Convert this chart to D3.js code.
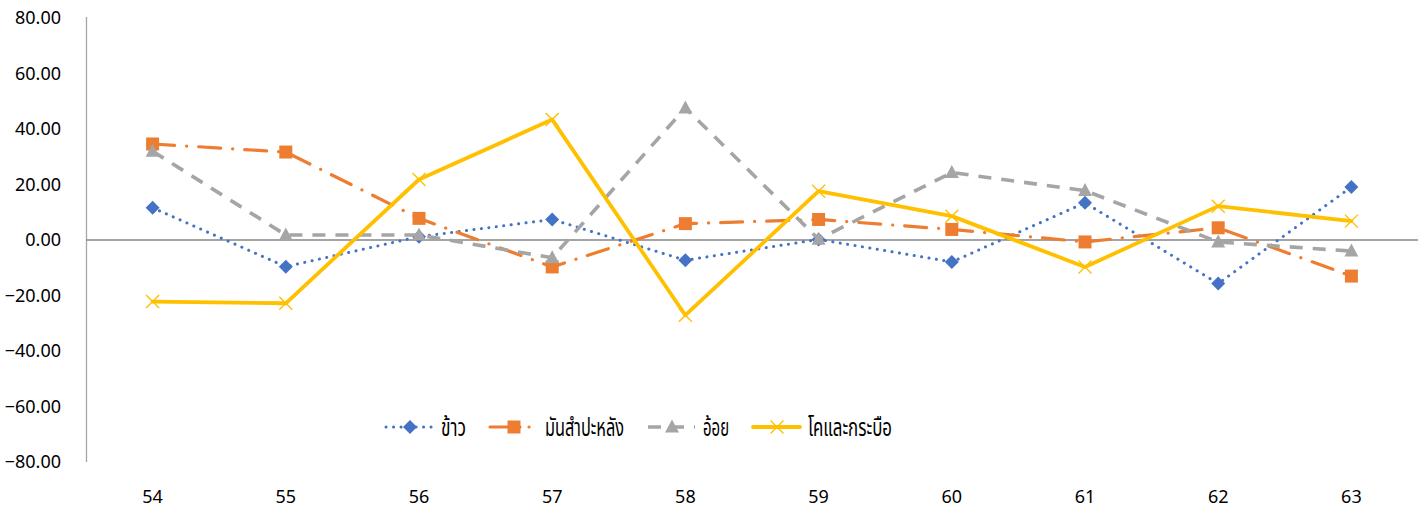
<!DOCTYPE html>
<html>
<head>
<meta charset="utf-8">
<script src="https://cdn.jsdelivr.net/npm/d3@7"></script>
<style>
  body { margin: 0; background: #fff; }
  text { font-family: "Noto Sans", "DejaVu Sans", sans-serif; fill: #000; }
  .legend-text { font-family: "Noto Sans Thai", "Noto Sans", "DejaVu Sans", sans-serif; }
</style>
</head>
<body>
<div id="container"></div>
<script>
// ### DATA ###
const years = [ '54', '55', '56', '57', '58', '59', '60', '61', '62', '63' ];
const yTicks = [ 80, 60, 40, 20, 0, -20, -40, -60, -80 ];

const seriesNames = [ 'ข้าว', 'มันสำปะหลัง', 'อ้อย', 'โคและกระบือ' ];
const rice = [ 11.6, -9.6, 1.2, 7.4, -7.3, 0.2, -7.9, 13.4, -15.7, 19.1 ];
const cassava = [ 34.6, 31.7, 7.8, -9.7, 5.9, 7.4, 3.8, -0.7, 4.4, -13.0 ];
const sugarcane = [ 32.0, 1.8, 1.8, -6.4, 47.6, 0.3, 24.3, 17.8, -0.7, -4.0 ];
const cattle = [ -22.2, -22.8, 21.8, 43.4, -27.1, 17.6, 8.6, -9.7, 12.2, 6.8 ];

const W = 1418, H = 508;

//_____ SERIES STYLES _____
const styles = [
  { values: rice, color: '#4472C4', width: 3, dash: '0.1 7.4', cap: 'round', marker: 'diamond' },
  { values: cassava, color: '#ED7D31', width: 3.2, dash: '22 12 0.1 12', cap: 'round', marker: 'square' },
  { values: sugarcane, color: '#A5A5A5', width: 3.6, dash: '13 10', cap: 'butt', marker: 'triangle' },
  { values: cattle, color: '#FFC000', width: 3.8, dash: null, cap: 'round', marker: 'x' }
];
//--- legend label widths (the original font is a narrow Thai face)
const legendTextWidths = [ 25, 79, 26, 84 ];

const svg = d3.select( '#container' ).append( 'svg' )
  .attr( 'width', W ).attr( 'height', H );

//_____ SCALES _____
const xScale = d3.scaleBand().domain( years ).range( [ 86, 1418 ] ).padding( 0 );
const xc = d => xScale( d ) + xScale.bandwidth() / 2;
const yScale = d3.scaleLinear().domain( [ -80, 80 ] ).range( [ 462, 18 ] );

//_____ AXES _____
const yAxis = d3.axisLeft( yScale ).tickValues( yTicks ).tickSize( 0 ).tickPadding( 25 )
  .tickFormat( d3.format( '.2f' ) );
const gy = svg.append( 'g' ).attr( 'transform', 'translate(86,0)' ).call( yAxis );
gy.select( '.domain' ).remove();
gy.selectAll( 'text' ).style( 'font-size', '18px' );

svg.append( 'line' )
  .attr( 'x1', 86.5 ).attr( 'x2', 86.5 )
  .attr( 'y1', yScale( 80 ) - 1 ).attr( 'y2', yScale( -80 ) )
  .attr( 'stroke', '#A6A6A6' ).attr( 'stroke-width', 1.3 );

svg.append( 'line' )
  .attr( 'x1', 86 ).attr( 'x2', 1418 )
  .attr( 'y1', yScale( 0 ) ).attr( 'y2', yScale( 0 ) )
  .attr( 'stroke', '#868686' ).attr( 'stroke-width', 1.3 );

const xAxis = d3.axisBottom( xScale ).tickSize( 0 ).tickPadding( 0 );
const gx = svg.append( 'g' ).attr( 'transform', 'translate(0,490)' ).call( xAxis );
gx.select( '.domain' ).remove();
gx.selectAll( 'text' ).style( 'font-size', '18px' );

//_____ MARKERS _____
function markerPath ( type ) {
  switch ( type ) {
    case 'diamond': return 'M0,-7L7,0L0,7L-7,0Z';
    case 'square': return 'M-6.5,-6.5H6.5V6.5H-6.5Z';
    case 'triangle': return 'M0,-7.5L7,5.5L-7,5.5Z';
    case 'x': return 'M-6.5,-6.5L6.5,6.5M-6.5,6.5L6.5,-6.5';
  }
}
function drawMarker ( g, s, x, y ) {
  const p = g.append( 'path' )
    .attr( 'd', markerPath( s.marker ) )
    .attr( 'transform', `translate(${x},${y})` );
  if ( s.marker === 'x' ) p.attr( 'fill', 'none' ).attr( 'stroke', s.color ).attr( 'stroke-width', 1.4 );
  else p.attr( 'fill', s.color );
}

//_____ LINES _____
const line = d3.line().x( ( d, i ) => xc( years[ i ] ) ).y( d => yScale( d ) );

styles.forEach( s => {
  const g = svg.append( 'g' );
  g.append( 'path' )
    .datum( s.values )
    .attr( 'd', line )
    .attr( 'fill', 'none' )
    .attr( 'stroke', s.color )
    .attr( 'stroke-width', s.width )
    .attr( 'stroke-linecap', s.cap )
    .attr( 'stroke-linejoin', 'round' )
    .attr( 'stroke-dasharray', s.dash );
  s.values.forEach( ( v, i ) => drawMarker( g, s, xc( years[ i ] ), yScale( v ) ) );
} );

//_____ LEGEND _____
const legend = svg.append( 'g' ).attr( 'transform', 'translate(0,427)' );
let lx = 386;
styles.forEach( ( s, i ) => {
  legend.append( 'line' )
    .attr( 'x1', lx ).attr( 'x2', lx + 47 )
    .attr( 'y1', 0 ).attr( 'y2', 0 )
    .attr( 'stroke', s.color )
    .attr( 'stroke-width', s.width )
    .attr( 'stroke-linecap', s.cap )
    .attr( 'stroke-dasharray', i === 1 ? '30 9 0.1 9' : s.dash );
  drawMarker( legend, s, lx + 24, 0 );
  legend.append( 'text' )
    .attr( 'class', 'legend-text' )
    .attr( 'x', lx + 55 ).attr( 'y', 9 )
    .attr( 'textLength', legendTextWidths[ i ] )
    .attr( 'lengthAdjust', 'spacingAndGlyphs' )
    .style( 'font-size', '24px' )
    .text( seriesNames[ i ] );
  lx += 55 + legendTextWidths[ i ] + 24;
} );
</script>
</body>
</html>
